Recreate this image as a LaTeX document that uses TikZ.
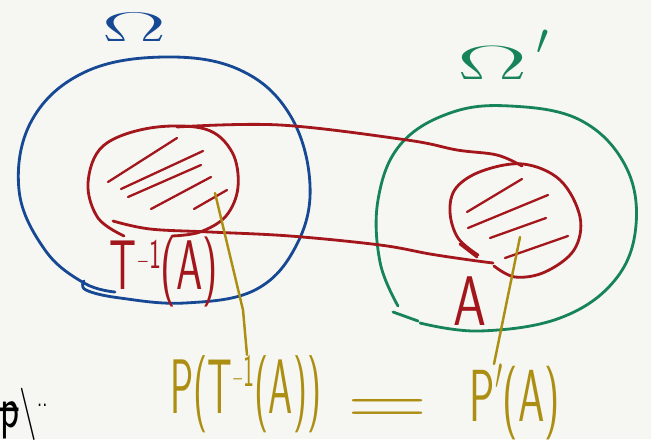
\documentclass[tikz,border=0pt]{standalone}
\usepackage{graphicx}
\usetikzlibrary{positioning, calc}
\definecolor{omegablue}{RGB}{22,72,148}
\definecolor{omegagreen}{RGB}{22,132,88}
\definecolor{setred}{RGB}{162,22,28}
\definecolor{probolive}{RGB}{172,142,18}
\definecolor{paper}{RGB}{246,247,242}

\begin{document}
\begin{tikzpicture}[x=0.02cm, y=-0.02cm, line cap=round, line join=round,
    pen/.style={line width=1.6pt},
    hatch/.style={line width=1.3pt, setred},
    hand/.style={font=\sffamily\fontsize{40}{40}\selectfont, inner sep=0pt}]

    % Paper
    \fill[paper] (0,0) rectangle (651,439);
    \useasboundingbox (0,0) rectangle (651,439);

    % Sample spaces
    \draw[pen, omegablue] plot[smooth, tension=0.65] coordinates {(84,281) (86,290) (120,298) (185,303) (255,290) (296,246) (310,185) (290,115) (240,70) (165,57) (85,72) (32,120) (19,190) (45,250) (84,283) (115,292)};
    \draw[pen, omegagreen] plot[smooth, tension=0.65] coordinates {(398,306) (380,262) (378,200) (400,145) (450,113) (510,106) (580,120) (625,165) (636,225) (615,280) (560,318) (480,331) (420,323)};
    \draw[pen, omegagreen] (393,312) -- (418,321);

    \node[hand, omegablue] (om) at (134,27) {\scalebox{2.2}[0.95]{$\Omega$}};
    \node[hand, omegagreen] (omp) at (493,63) {\scalebox{2.4}[1.1]{$\Omega$}};
    \node[hand, omegagreen, font=\sffamily\fontsize{30}{30}\selectfont] (prime) at (542,42) {$\prime$};

    % Sets
    \draw[pen, setred] plot[smooth, tension=0.6] coordinates {(124,236) (98,218) (88,183) (103,146) (150,128) (205,129) (232,152) (238,187) (226,216) (200,232) (172,236)};
    \draw[pen, setred] plot[smooth, tension=0.6] coordinates {(478,255) (458,238) (450,212) (456,188) (482,171) (523,164) (560,180) (580,217) (574,250) (545,272) (515,277) (494,266)};
    \draw[pen, setred] (460,244) -- (477,257);

    % Preimage strip
    \draw[pen, setred] plot[smooth, tension=0.6] coordinates {(177,127) (280,125) (407,140) (457,150) (497,155) (522,166)};
    \draw[pen, setred] plot[smooth, tension=0.6] coordinates {(113,221) (150,229) (210,232) (290,236) (380,245) (430,254) (470,260) (493,263)};

    % Hatching
    \foreach \a/\b/\c/\d in {108/182/177/138, 121/189/203/151, 128/197/201/165, 151/209/211/177, 194/209/227/190,
                             467/212/522/179, 468/228/548/195, 490/238/546/218, 505/258/568/236}
        \draw[hatch] (\a,\b) -- (\c,\d);

    \node[hand, setred] (pre) at (164,272) {\scalebox{0.6}[1.0]{T\raisebox{12pt}{\scalebox{0.6}{$-$1}}(A)}};
    \node[hand, setred] (set) at (470,301) {\scalebox{0.75}[1.0]{A}};

    % Measure equality
    \node[hand, probolive] (lhs) at (246,394) {\scalebox{0.55}[1.1]{P(T\raisebox{14pt}{\scalebox{0.6}{$-$1}}(A))}};
    \node[hand, probolive] (eq) at (388,412) {\scalebox{1.6}[1]{=}};
    \node[hand, probolive] (rhs) at (515,402) {\scalebox{0.6}[1.05]{P\raisebox{8pt}{$^\prime$}(A)}};

    \coordinate (lfoot) at (215,193);
    \coordinate (rfoot) at (520,237);
    \draw[pen, probolive, line width=1.4pt] (lfoot) -- (243,310) -- (lhs.north -| 247,0);
    \draw[pen, probolive, line width=1.4pt] (rfoot) -- (rhs.north -| 494,0);

    \node[hand, black, font=\sffamily\fontsize{28}{28}\selectfont] (pf) at (24,414) {\scalebox{0.8}[1.2]{$\rlap{\raisebox{1pt}{--}}$p$\backslash$\raisebox{10pt}{\scalebox{0.5}{..}}}};
\end{tikzpicture}
\end{document}
